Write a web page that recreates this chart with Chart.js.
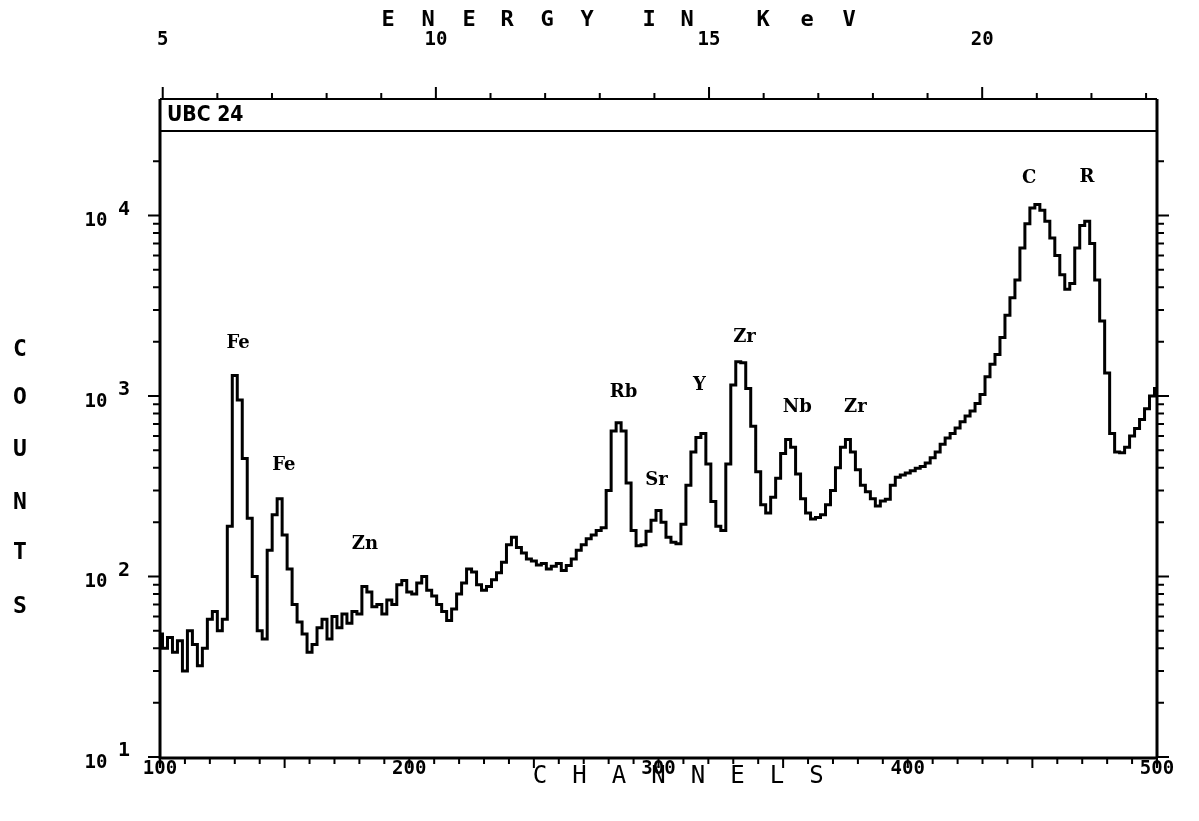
<!DOCTYPE html>
<html>
<head>
<meta charset="utf-8">
<script src="https://cdn.jsdelivr.net/npm/chart.js@4.4.1/dist/chart.umd.min.js"></script>
<style>
  html, body { margin: 0; padding: 0; background: #fff; }
  #wrap { width: 1199px; height: 821px; position: relative; }
</style>
</head>
<body>
<div id="wrap"><canvas id="c" width="1199" height="821"></canvas></div>
<script>
// ---------- DATA ----------
const sampleName = "UBC 24";
// channel numbers (every 2nd channel, 100..500)
const channels = [];
for (let ch = 100; ch <= 500; ch += 2) channels.push(ch);
// counts per channel (log scale)
const counts = [
  48, 40, 46, 38, 44, 30, 50, 42, 32, 40,          // 100-118
  58, 64, 50, 58, 190, 1300, 950, 450, 210, 100,   // 120-138
  50, 45, 140, 220, 270, 170, 110, 70, 56, 48,     // 140-158
  38, 42, 52, 58, 45, 60, 52, 62, 55, 64,          // 160-178
  62, 88, 82, 68, 70, 62, 74, 70, 90, 95,          // 180-198
  82, 80, 92, 100, 84, 78, 70, 64, 57, 66,         // 200-218
  80, 92, 110, 106, 90, 84, 88, 96, 105, 120,      // 220-238
  150, 165, 145, 135, 125, 122, 116, 118, 110, 114, // 240-258
  118, 108, 115, 125, 140, 150, 162, 170, 180, 186, // 260-278
  300, 640, 710, 640, 330, 180, 148, 150, 178, 205, // 280-298
  232, 200, 165, 155, 152, 195, 320, 490, 590, 620, // 300-318
  420, 260, 190, 180, 420, 1150, 1550, 1530, 1100, 680, // 320-338
  380, 250, 225, 275, 350, 480, 575, 520, 370, 270, // 340-358
  225, 208, 212, 220, 250, 300, 400, 520, 575, 490, // 360-378
  390, 320, 295, 270, 246, 262, 268, 320, 355, 365, // 380-398
  375, 385, 398, 407, 425, 455, 490, 540, 585, 620, // 400-418
  665, 720, 775, 825, 910, 1020, 1280, 1500, 1700, 2110, // 420-438
  2800, 3500, 4400, 6600, 9000, 11000, 11500, 10700, 9300, 7500, // 440-458
  6000, 4700, 3900, 4200, 6600, 8800, 9300, 7000, 4400, 2600, // 460-478
  1340, 620, 490, 485, 520, 600, 660, 740, 850, 1000, // 480-498
  1100                                              // 500
];
// axis tick values
const channelTicks = [100, 200, 300, 400, 500];
const energyTicks = [5, 10, 15, 20];
const decadeExponents = [1, 2, 3, 4];
// peak annotations (label, channel, counts at label position)
const peakLabels   = ["Fe", "Fe", "Zn", "Rb", "Sr", "Y", "Zr", "Nb", "Zr", "C", "R"];
const peakChannels = [131.3, 149.7, 182.2, 286, 299.2, 316.4, 334.5, 355.7, 379, 448.7, 471.9];
const peakCounts   = [1970, 412, 150, 1054, 342, 1140, 2113, 869, 861, 16100, 16200];
// energy calibration (keV) at the first and last channel
const energyRange = [4.95, 23.2];
const channelRange = [100, 500];
const countRange = [10, 29400];

// ---------- STYLE ----------
const FONT = '"DejaVu Sans Mono", "Liberation Mono", monospace';

const axesPlugin = {
  id: 'spectrumAxes',
  afterDraw(chart) {
    const ctx = chart.ctx;
    const xs = chart.scales.x, ys = chart.scales.y, es = chart.scales.xE;
    const L = chart.chartArea.left, R = chart.chartArea.right;
    const T = chart.chartArea.top, B = chart.chartArea.bottom;
    const boxTop = T - 32;
    ctx.save();
    ctx.strokeStyle = '#000';
    ctx.fillStyle = '#000';
    // frame
    ctx.lineWidth = 3;
    ctx.beginPath();
    ctx.moveTo(L, boxTop); ctx.lineTo(L, B + 1); ctx.lineTo(R, B + 1);
    ctx.stroke();
    ctx.beginPath();
    ctx.moveTo(R, boxTop); ctx.lineTo(R, B + 1);
    ctx.stroke();
    ctx.lineWidth = 2;
    ctx.beginPath();
    ctx.moveTo(L, boxTop); ctx.lineTo(R, boxTop);
    ctx.moveTo(L, T); ctx.lineTo(R, T);
    ctx.stroke();

    // bottom channel ticks
    ctx.lineWidth = 2;
    ctx.beginPath();
    for (let c = channelRange[0]; c <= channelRange[1]; c += 10) {
      const px = xs.getPixelForValue(c);
      const len = (c % 50 === 0) ? 10 : 6;
      ctx.moveTo(px, B + 1); ctx.lineTo(px, B + 1 + len);
    }
    ctx.stroke();
    // top energy ticks
    ctx.beginPath();
    for (let e = 5; e <= 23; e += 1) {
      const px = es.getPixelForValue(e);
      const len = (e % 5 === 0) ? 12 : 6;
      ctx.moveTo(px, boxTop); ctx.lineTo(px, boxTop - len);
    }
    ctx.stroke();
    // log ticks left & right
    ctx.beginPath();
    for (const ex of decadeExponents) {
      for (let m = 1; m <= 9; m++) {
        const v = m * Math.pow(10, ex);
        if (v > countRange[1]) continue;
        const py = ys.getPixelForValue(v);
        const len = (m === 1) ? 12 : 7;
        ctx.moveTo(L, py); ctx.lineTo(L - len, py);
        ctx.moveTo(R, py); ctx.lineTo(R + len, py);
      }
    }
    ctx.stroke();

    // tick labels
    ctx.textAlign = 'center';
    ctx.textBaseline = 'middle';
    ctx.font = 'bold 19px ' + FONT;
    for (const c of channelTicks) {
      ctx.fillText(String(c), xs.getPixelForValue(c), B + 12);
    }
    for (const e of energyTicks) {
      ctx.fillText(String(e), es.getPixelForValue(e), 40);
    }
    for (const ex of decadeExponents) {
      const py = ys.getPixelForValue(Math.pow(10, ex));
      ctx.font = 'bold 19px ' + FONT;
      ctx.fillText('10', 96, py + 6);
      ctx.font = 'bold 20px ' + FONT;
      ctx.fillText(String(ex), 124, py - 6);
    }

    // axis titles (spaced letters)
    ctx.font = 'bold 22px ' + FONT;
    let ex0 = 388;
    const eStep = [40, 41, 38, 40, 40, 62, 38, 76, 44, 42];
    const eLetters = ['E','N','E','R','G','Y','I','N','K','e','V'];
    for (let i = 0; i < eLetters.length; i++) {
      ctx.fillText(eLetters[i], ex0, 20);
      if (i < eStep.length) ex0 += eStep[i];
    }
    ctx.font = '24px ' + FONT;
    const chLetters = ['C','H','A','N','N','E','L','S'];
    for (let i = 0; i < chLetters.length; i++) {
      ctx.fillText(chLetters[i], 540 + i * 39.5, 777);
    }
    ctx.font = 'bold 23px ' + FONT;
    const ctLetters = ['C','O','U','N','T','S'];
    const ctY = [350, 398, 450, 503, 553, 607];
    for (let i = 0; i < ctLetters.length; i++) {
      ctx.fillText(ctLetters[i], 20, ctY[i]);
    }

    // sample name
    ctx.textAlign = 'left';
    ctx.font = 'bold 21px "DejaVu Sans Condensed", "DejaVu Sans", sans-serif';
    ctx.fillText(sampleName, 167, boxTop + 17);

    // peak labels
    ctx.textAlign = 'center';
    ctx.font = 'bold 18px "DejaVu Serif", serif';
    for (let i = 0; i < peakLabels.length; i++) {
      ctx.fillText(peakLabels[i], xs.getPixelForValue(peakChannels[i]), ys.getPixelForValue(peakCounts[i]));
    }
    ctx.restore();
  }
};

new Chart(document.getElementById('c'), {
  type: 'line',
  data: {
    datasets: [{
      data: channels.map((c, i) => ({ x: c, y: counts[i] })),
      stepped: 'middle',
      borderColor: '#000',
      borderWidth: 3,
      pointRadius: 0,
      fill: false
    }]
  },
  options: {
    responsive: false,
    animation: false,
    devicePixelRatio: 1,
    layout: { padding: { left: 160, right: 42, top: 131, bottom: 64 } },
    plugins: { legend: { display: false }, tooltip: { enabled: false } },
    scales: {
      x: { type: 'linear', min: channelRange[0], max: channelRange[1], display: false },
      xE: { type: 'linear', axis: 'x', position: 'top', min: energyRange[0], max: energyRange[1], display: false },
      y: { type: 'logarithmic', min: countRange[0], max: countRange[1], display: false }
    }
  },
  plugins: [axesPlugin]
});
</script>
</body>
</html>
